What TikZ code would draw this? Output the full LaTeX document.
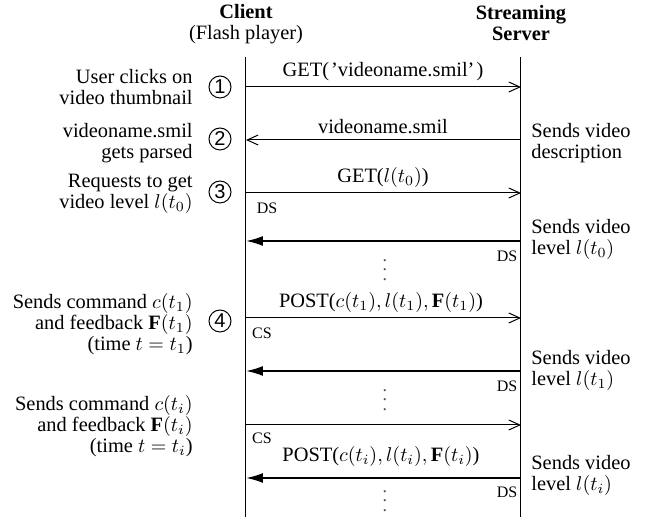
\documentclass[tikz,border=0pt]{standalone}
\usepackage{fontspec}
\setmainfont{Liberation Serif}
\newfontfamily\circfont{Liberation Sans}
\usetikzlibrary{arrows.meta}
\begin{document}
\begin{tikzpicture}[x=0.5pt,y=-0.5pt,
  txt/.style={font=\fontsize{10.2}{10.5}\selectfont, inner sep=0pt},
  lefttxt/.style={txt, anchor=east, align=right},
  righttxt/.style={txt, anchor=west, align=left},
  small/.style={font=\fontsize{8}{9}\selectfont, inner sep=0pt},
  dotcol/.style={font=\fontsize{9}{4.75}\selectfont, align=center, inner sep=0pt, text=black!70},
  num/.style={draw, circle, minimum size=11pt, inner sep=0pt, line width=0.5pt, font=\circfont\fontsize{10}{10}\selectfont},
  life/.style={line width=0.5pt},
  req/.style={line width=0.5pt, -{Straight Barb[length=5.5pt,width=5pt]}},
  data/.style={line width=0.9pt, -{Latex[length=8.5pt,width=5pt]}},
]
\useasboundingbox (0,0) rectangle (650,517);

% headers
\node[txt, align=center] (client) at (246,24) {\textbf{Client}\\(Flash player)};
\node[txt, align=center] (server) at (521,23.5) {\textbf{Streaming}\\\textbf{Server}};

% lifelines
\coordinate (ctop) at (246,57); \coordinate (cbot) at (246,517);
\coordinate (stop) at (521,57); \coordinate (sbot) at (521,517);
\draw[life] (ctop) -- (cbot);
\draw[life] (stop) -- (sbot);

% arrow endpoints
\foreach \i/\y in {1/87,2/140,3/193,4/241,5/318,6/371,7/425,8/478}{
  \coordinate (c\i) at (246,\y);
  \coordinate (s\i) at (521,\y);
}

\draw[req] (c1) -- (s1);
\draw[req] (s2) -- (c2);
\draw[req] (c3) -- (s3);
\draw[data] (s4) -- (c4);
\draw[req] (c5) -- (s5);
\draw[data] (s6) -- (c6);
\draw[req] (c7) -- (s7);
\draw[data] (s8) -- (c8);

% message labels
\node[txt] (m1) at (383,72) {GET(\kern1pt'videoname.smil'\kern1pt)};
\node[txt] (m2) at (383,127) {videoname.smil};
\node[txt] (m3) at (383,178) {GET($l(t_0)$)};
\node[txt] (m4) at (381,303) {POST($c(t_1), l(t_1), \mathbf{F}(t_1)$)};
\node[txt] (m5) at (381,457) {POST($c(t_i), l(t_i), \mathbf{F}(t_i)$)};

% DS / CS
\node[small] (ds1) at (267,208) {DS};
\node[small] (ds2) at (507,256) {DS};
\node[small] (cs1) at (262,333) {CS};
\node[small] (ds3) at (507,386) {DS};
\node[small] (cs2) at (262,438) {CS};
\node[small] (ds4) at (507,492) {DS};

% dots
\node[dotcol] (d1) at (385,270) {.\\.\\.};
\node[dotcol] (d2) at (385,400) {.\\.\\.};
\node[dotcol] (d3) at (385,501) {.\\.\\.};

% step numbers
\node[num] (n1) at (220,87) {1};
\node[num] (n2) at (220,139) {2};
\node[num] (n3) at (220,192) {3};
\node[num] (n4) at (220,321) {4};

% client side notes
\node[lefttxt] (l1) at (193,87) {User clicks on\\video thumbnail};
\node[lefttxt] (l2) at (193,143.5) {videoname.smil\\gets parsed};
\node[lefttxt] (l3) at (193,194) {Requests to get\\video level $l(t_0)$};
\node[lefttxt] (l4) at (193,324) {Sends command $c(t_1)$\\and feedback $\mathbf{F}(t_1)$\\(time $t=t_1$)};
\node[lefttxt] (l5) at (193,426) {Sends command $c(t_i)$\\and feedback $\mathbf{F}(t_i)$\\(time $t=t_i$)};

% server side notes
\node[righttxt] (r1) at (531,143.5) {Sends video\\description};
\node[righttxt] (r2) at (531,239) {Sends video\\level $l(t_0)$};
\node[righttxt] (r3) at (531,370.5) {Sends video\\level $l(t_1)$};
\node[righttxt] (r4) at (531,475) {Sends video\\level $l(t_i)$};
\end{tikzpicture}
\end{document}
